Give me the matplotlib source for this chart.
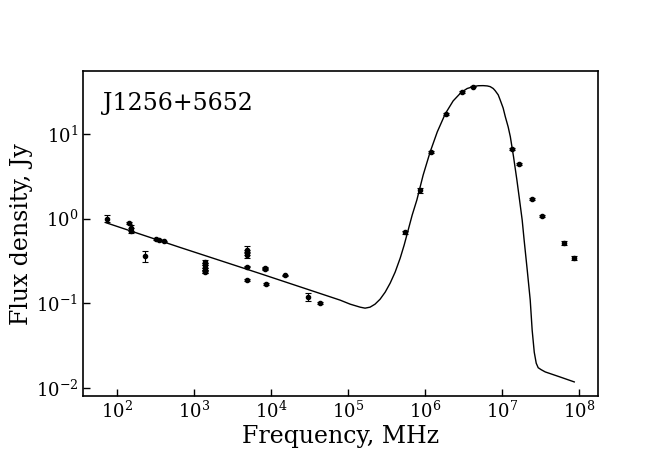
import numpy as np
import matplotlib
matplotlib.use("Agg")
import matplotlib.pyplot as plt
from matplotlib.ticker import NullLocator

plt.rcParams["font.family"] = "DejaVu Serif"
plt.rcParams["mathtext.fontset"] = "dejavuserif"

# measured points: frequency (MHz), flux density (Jy), error (Jy)
freq_radio = [74, 142, 150, 150, 232, 325, 352, 408,
              1400, 1400, 1400, 1400, 1400, 1400,
              4850, 4850, 4850, 4850, 4850,
              8400, 8400, 8600, 15000, 30000, 43000]
flux_radio = [1.00, 0.89, 0.77, 0.72, 0.36, 0.58, 0.56, 0.54,
              0.31, 0.29, 0.27, 0.25, 0.24, 0.235,
              0.43, 0.40, 0.37, 0.27, 0.187,
              0.26, 0.255, 0.169, 0.213, 0.119, 0.100]
err_radio = [0.10, 0.03, 0.06, 0.05, 0.05, 0.015, 0.015, 0.01,
             0.01, 0.01, 0.01, 0.01, 0.01, 0.01,
             0.04, 0.03, 0.03, 0.005, 0.005,
             0.005, 0.005, 0.003, 0.004, 0.012, 0.003]

freq_ir = [5.45e5, 8.57e5, 1.2e6, 1.87e6, 3.0e6, 4.25e6,
           1.36e7, 1.67e7, 2.5e7, 3.33e7, 6.5e7, 8.8e7]
flux_ir = [0.69, 2.16, 6.1, 17.3, 31.0, 36.3,
           6.6, 4.45, 1.70, 1.06, 0.52, 0.34]
err_ir = [0.03, 0.15, 0.2, 0.5, 0.8, 0.8,
          0.2, 0.15, 0.05, 0.03, 0.03, 0.02]

# model curve
model_freq = [72.4, 658, 7.2e3, 7.92e4, 1.07e5, 1.44e5, 1.67e5, 1.94e5,
              2.25e5, 2.62e5, 3.05e5, 3.54e5, 4.11e5, 4.78e5, 5.38e5,
              5.97e5, 6.84e5, 7.87e5, 9.5e5, 1.17e6, 1.45e6, 1.84e6,
              2.33e6, 2.97e6, 3.55e6, 4.25e6, 4.93e6, 5.73e6, 6.46e6,
              7.06e6, 7.73e6, 8.2e6, 8.98e6, 9.53e6, 1.04e7, 1.11e7,
              1.21e7, 1.29e7, 1.42e7, 1.57e7, 1.70e7, 1.84e7, 1.95e7,
              2.14e7, 2.34e7, 2.48e7, 2.64e7, 2.80e7, 2.97e7, 3.25e7,
              3.67e7, 5.74e7, 8.74e7]
model_flux = [0.891, 0.456, 0.224, 0.1086, 0.0973, 0.0897, 0.0873, 0.0897,
              0.0973, 0.1114, 0.135, 0.1725, 0.233, 0.341, 0.486,
              0.692, 1.10, 1.66, 3.27, 6.12, 10.6, 17.3,
              24.6, 31.1, 34.5, 36.3, 37.2, 37.3, 37.0,
              36.3, 34.5, 32.5, 29.0, 25.2, 20.3, 16.0,
              12.1, 9.29, 5.38, 2.86, 1.66, 0.959, 0.557,
              0.246, 0.1086, 0.0479, 0.0263, 0.0195, 0.01725, 0.01634,
              0.01538, 0.01339, 0.01172]

x_ticks = [1e2, 1e3, 1e4, 1e5, 1e6, 1e7, 1e8]
y_ticks = [1e-2, 1e-1, 1e0, 1e1]

fig = plt.figure(figsize=(6.64, 4.70), dpi=100)
ax = fig.add_axes([0.125, 0.157, 0.7756, 0.692])

ax.plot(model_freq, model_flux, color="black", lw=1.0)
ax.errorbar(freq_radio + freq_ir, flux_radio + flux_ir,
            yerr=err_radio + err_ir, fmt="o", color="black",
            ms=3, elinewidth=0.8, capsize=2, capthick=0.8)

ax.set_xscale("log")
ax.set_yscale("log")
ax.set_xlim(10**1.557, 10**8.25)
ax.set_ylim(10**-2.1, 10**1.745)

ax.set_xticks(x_ticks)
ax.set_yticks(y_ticks)
ax.xaxis.set_minor_locator(NullLocator())
ax.yaxis.set_minor_locator(NullLocator())
ax.tick_params(direction="in", length=5, width=1, labelsize=13,
               top=False, right=False)
for s in ax.spines.values():
    s.set_linewidth(1.2)

ax.set_xlabel("Frequency, MHz", fontsize=17, labelpad=2)
ax.set_ylabel("Flux density, Jy", fontsize=17, labelpad=2)
ax.text(0.039, 0.90, "J1256+5652", transform=ax.transAxes,
        fontsize=17, ha="left", va="center")

fig.savefig("out.png", dpi=100)
